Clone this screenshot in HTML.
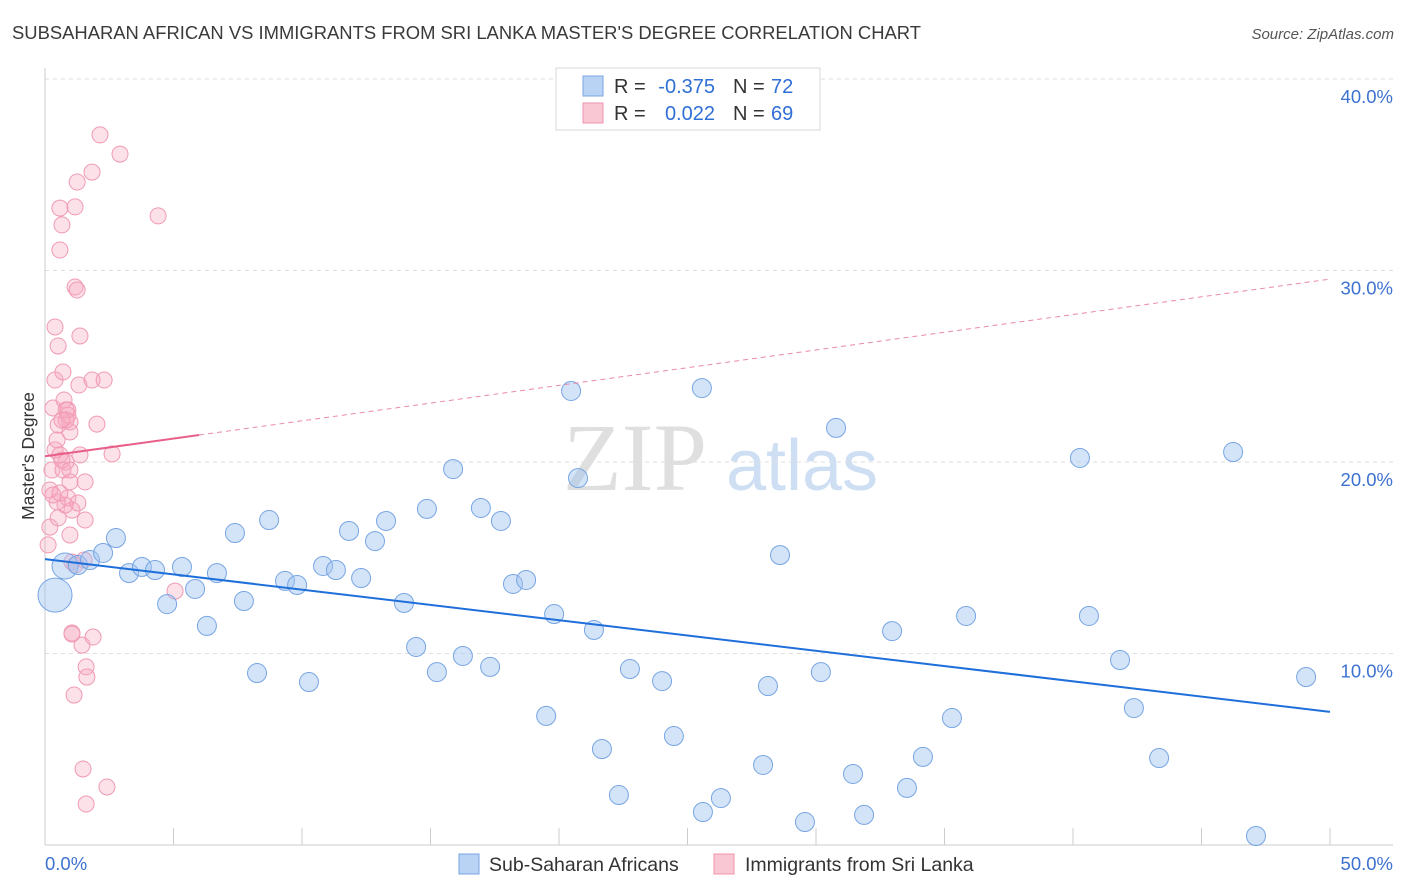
<!DOCTYPE html>
<html><head><meta charset="utf-8">
<style>
body{margin:0;background:#fff;font-family:"Liberation Sans",sans-serif;}
#wrap{position:relative;width:1406px;height:892px;overflow:hidden;}
</style></head>
<body>
<div id="wrap">
<svg id="chart" width="1406" height="892" xmlns="http://www.w3.org/2000/svg">
<text x="12" y="39" font-size="18.3" fill="#3a3a3a" textLength="909" lengthAdjust="spacingAndGlyphs">SUBSAHARAN AFRICAN VS IMMIGRANTS FROM SRI LANKA MASTER'S DEGREE CORRELATION CHART</text>
<text x="1394" y="39" font-size="15" fill="#555" font-style="italic" text-anchor="end">Source: ZipAtlas.com</text>
<g opacity="0.9">
<text x="635" y="490" font-size="96" font-family="Liberation Serif,serif" fill="#dcdcdc" text-anchor="middle">ZIP</text>
<text x="802" y="490" font-size="72" fill="#c9dcf3" text-anchor="middle">atlas</text>
</g>
<g id="grid"></g>
<g id="axes"></g>
<g id="marks"></g>
<g>
<rect x="556" y="68" width="264" height="62" fill="#fff" stroke="#d8d8d8"/>
<rect x="583" y="76" width="20" height="20" fill="#b9d3f5" stroke="#7aa6e2"/>
<rect x="583" y="103" width="20" height="20" fill="#f9c7d4" stroke="#ef93ae"/>
<text x="614" y="93" font-size="20" fill="#333">R =</text>
<text x="715" y="93" font-size="20" fill="#2f6fd6" text-anchor="end">-0.375</text>
<text x="733" y="93" font-size="20" fill="#333">N =</text>
<text x="771" y="93" font-size="20" fill="#2f6fd6">72</text>
<text x="614" y="120" font-size="20" fill="#333">R =</text>
<text x="715" y="120" font-size="20" fill="#2f6fd6" text-anchor="end">0.022</text>
<text x="733" y="120" font-size="20" fill="#333">N =</text>
<text x="771" y="120" font-size="20" fill="#2f6fd6">69</text>
</g>
<g>
<rect x="459" y="854" width="20" height="20" fill="#b9d3f5" stroke="#7aa6e2"/>
<text x="489" y="871" font-size="19.5" fill="#333">Sub-Saharan Africans</text>
<rect x="714" y="854" width="20" height="20" fill="#f9c7d4" stroke="#ef93ae"/>
<text x="745" y="871" font-size="19.5" fill="#333">Immigrants from Sri Lanka</text>
</g>
<text transform="translate(34,456) rotate(-90)" font-size="17.5" fill="#333" text-anchor="middle">Master's Degree</text>
</svg>
</div>
<script>
const blueX=[0.39,0.78,1.28,1.75,2.26,2.76,3.27,3.77,4.28,4.75,5.33,5.84,6.3,6.69,7.39,7.74,8.25,8.72,9.34,9.81,10.27,10.82,11.32,11.83,12.3,12.84,13.27,13.97,14.44,14.86,15.25,15.88,16.26,16.96,17.32,17.74,18.21,18.72,19.5,19.81,20.47,20.74,21.36,21.67,22.33,22.76,24.01,24.47,25.56,25.6,26.3,27.94,28.13,28.6,29.57,30.19,30.78,31.44,31.87,32.96,33.54,34.16,35.29,35.84,40.27,40.62,41.83,42.37,43.35,46.23,47.12,49.07];
const blueY=[13.05,14.57,14.62,14.88,15.25,16.03,14.2,14.52,14.36,12.58,14.52,13.37,11.44,14.2,16.29,12.74,8.98,16.97,13.79,13.58,8.51,14.57,14.36,16.4,13.94,15.87,16.92,12.64,10.34,17.55,9.03,19.63,9.87,17.6,9.3,16.92,13.63,13.84,6.74,12.06,23.71,19.16,11.23,5.01,2.61,9.19,8.56,5.69,23.86,1.72,2.45,4.18,8.3,15.14,1.2,9.03,21.78,3.71,1.57,11.17,2.98,4.6,6.63,11.96,20.21,11.96,9.66,7.15,4.54,20.52,0.47,8.77];
const pinkX=[0.19,0.12,0.19,0.27,0.39,0.31,0.39,0.47,0.51,0.39,0.51,0.58,0.66,0.58,0.7,0.74,0.82,0.89,0.89,0.97,0.97,1.05,0.97,1.05,1.05,1.17,1.17,1.25,1.25,1.32,1.36,1.44,1.52,1.56,1.6,1.63,1.48,1.13,1.6,1.83,1.83,2.02,2.14,2.3,2.41,2.61,2.92,4.4,5.06,1.87,0.58,0.66,0.78,0.89,0.97,1.05,1.17,1.28,1.36,0.7,0.82,0.47,1.56,0.31,0.58,0.97,0.82,0.66,0.51];
const pinkY=[16.6,15.67,18.54,19.58,20.63,22.82,24.28,21.15,21.93,27.05,26.06,31.07,32.38,33.26,24.7,23.24,20.0,22.72,18.12,22.09,16.19,14.78,21.57,11.07,17.49,33.32,29.14,34.62,28.98,24.02,26.58,10.44,14.88,18.96,9.3,8.77,3.97,7.83,2.14,24.28,35.14,21.98,37.08,24.28,3.03,20.42,36.08,32.85,13.26,10.86,20.37,20.1,17.75,22.45,18.96,11.02,14.62,17.86,20.37,19.58,22.72,17.91,16.97,18.28,18.38,19.58,22.19,22.19,17.08];
const blueTrend=[14.93,6.95];
const pinkTrend=[20.3,29.55];
const yTicks=[10,20,30,40];
const yTickLabels=["10.0%","20.0%","30.0%","40.0%"];
const xEnds=["0.0%","50.0%"];

const NS="http://www.w3.org/2000/svg";
const X0=45,X1=1330,Y0=845,PXY=19.15;
const sx=v=>X0+(v/50)*(X1-X0);
const sy=v=>Y0-v*PXY;
function mk(tag,attrs,parent){const e=document.createElementNS(NS,tag);for(const k in attrs)e.setAttribute(k,attrs[k]);document.getElementById(parent).appendChild(e);return e;}

yTicks.forEach((t,i)=>{
  const g=mk('line',{x1:45,x2:1393,y1:sy(t),y2:sy(t),stroke:'#dedede','stroke-dasharray':'4,4'},'grid');
  
  
  const l=mk('text',{x:1393,y:sy(t)+24,'font-size':18.5,fill:'#3d72d0','text-anchor':'end'},'axes');
  l.textContent=yTickLabels[i];
  
  
});
let ax=mk('line',{x1:45,x2:1393,y1:845,y2:845,stroke:'#ccc'},'axes');


let ay=mk('line',{x1:45,x2:45,y1:68,y2:845,stroke:'#ccc'},'axes');


for(let v=5;v<=50;v+=5){
  const t=mk('line',{x1:sx(v),x2:sx(v),y1:828,y2:845,stroke:'#ccc'},'axes');
  
  
}
const xl0=mk('text',{x:45,y:870,'font-size':18.5,fill:'#3d72d0'},'axes');
xl0.textContent=xEnds[0];


const xl1=mk('text',{x:1393,y:870,'font-size':18.5,fill:'#3d72d0','text-anchor':'end'},'axes');
xl1.textContent=xEnds[1];



pinkX.forEach((x,i)=>{
  const c=mk('circle',{cx:sx(x),cy:sy(pinkY[i]),r:8,fill:'rgba(246,170,192,0.35)',stroke:'#f09ab3','stroke-width':1},'marks');
  
  
});
blueX.forEach((x,i)=>{
  const r=i===0?17:(i===1?13:9.5);
  const c=mk('circle',{cx:sx(x),cy:sy(blueY[i]),r:r,fill:'rgba(160,195,240,0.45)',stroke:'#77a5e3','stroke-width':1},'marks');
  
  
});
const bt=mk('line',{x1:sx(0),y1:sy(blueTrend[0]),x2:sx(50),y2:sy(blueTrend[1]),stroke:'#1f6fdb','stroke-width':2},'marks');


const pv=x=>pinkTrend[0]+(pinkTrend[1]-pinkTrend[0])*x/50;
const pt=mk('line',{x1:sx(0),y1:sy(pv(0)),x2:sx(6),y2:sy(pv(6)),stroke:'#e8608a','stroke-width':2},'marks');


const pd=mk('line',{x1:sx(6),y1:sy(pv(6)),x2:sx(50),y2:sy(pv(50)),stroke:'#eb8aa8','stroke-width':1,'stroke-dasharray':'5,4'},'marks');


</script>
</body></html>
